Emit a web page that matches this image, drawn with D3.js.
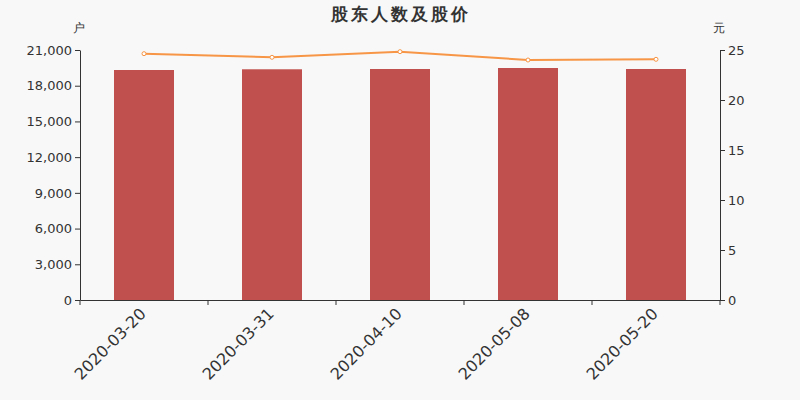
<!DOCTYPE html>
<html>
<head>
<meta charset="utf-8">
<script src="https://cdn.jsdelivr.net/npm/d3@7"></script>
<style>
body{margin:0;background:#f8f8f8;}
svg{display:block;font-family:"DejaVu Sans",sans-serif;}
</style>
</head>
<body>
<svg id="chart" width="800" height="400"></svg>
<script>
var dates = ["2020-03-20","2020-03-31","2020-04-10","2020-05-08","2020-05-20"]
var holders = [19320,19380,19404,19488,19404]
var prices = [24.63,24.27,24.83,24.0,24.07]
var leftTicks = [0,3000,6000,9000,12000,15000,18000,21000]
var rightTicks = [0,5,10,15,20,25]

var svg = d3.select("#chart")
svg.append("rect").attr("width",800).attr("height",400).attr("fill","#f8f8f8")

var x = d3.scaleBand().domain(dates).range([80,720])
var yL = d3.scaleLinear().domain([0,21000]).range([300,50])
var yR = d3.scaleLinear().domain([0,25]).range([300,50])

svg.append("text").attr("x",401).attr("y",20).attr("text-anchor","middle")
	.attr("font-size",17).attr("font-weight","bold").attr("letter-spacing",3)
	.attr("fill","#333").text("股东人数及股价")
svg.append("text").attr("x",79).attr("y",32).attr("text-anchor","middle")
	.attr("font-size",12).attr("fill","#333").text("户")
svg.append("text").attr("x",719).attr("y",32).attr("text-anchor","middle")
	.attr("font-size",12).attr("fill","#333").text("元")

// bars
var bw = 60
svg.selectAll(".bar").data(holders).enter().append("rect").attr("class","bar")
	.attr("x",function(d,i){return x(dates[i])+x.bandwidth()/2-bw/2})
	.attr("y",function(d){return yL(d)})
	.attr("width",bw)
	.attr("height",function(d){return 300-yL(d)})
	.attr("fill","#c0504d")

// axes
var ax = svg.append("g").attr("transform","translate(80,0)")
	.call(d3.axisLeft(yL).tickValues(leftTicks).tickSize(5).tickSizeOuter(0).tickFormat(d3.format(",")))
var ar = svg.append("g").attr("transform","translate(720,0)")
	.call(d3.axisRight(yR).tickValues(rightTicks).tickSize(5).tickSizeOuter(0))
var ab = svg.append("g").attr("transform","translate(0,300)")
	.call(d3.axisBottom(x).tickSize(0).tickSizeOuter(0).tickFormat(""))
ab.selectAll(".sep").data(d3.range(dates.length+1)).enter().append("line").attr("class","sep")
	.attr("x1",function(i){return 80+i*x.step()}).attr("x2",function(i){return 80+i*x.step()})
	.attr("y1",0).attr("y2",5).attr("stroke","#333")

;[ax,ar,ab].forEach(function(g){
	g.select(".domain").attr("stroke","#333")
	g.selectAll(".tick line").attr("stroke","#333")
	g.selectAll("text").attr("fill","#333").attr("font-size",13).attr("font-family","DejaVu Sans")
})

svg.selectAll(".xl").data(dates).enter().append("text").attr("class","xl")
	.attr("transform",function(d){return "translate("+(x(d)+x.bandwidth()/2-5)+",307) rotate(-45)"})
	.attr("text-anchor","end").attr("dy","0.7em")
	.attr("font-size",16).attr("fill","#333").text(function(d){return d})

// price line
var line = d3.line()
	.x(function(d,i){return x(dates[i])+x.bandwidth()/2})
	.y(function(d){return yR(d)})
svg.append("path").attr("d",line(prices)).attr("fill","none")
	.attr("stroke","#f79646").attr("stroke-width",2)
svg.selectAll(".pt").data(prices).enter().append("circle").attr("class","pt")
	.attr("cx",function(d,i){return x(dates[i])+x.bandwidth()/2})
	.attr("cy",function(d){return yR(d)})
	.attr("r",2).attr("fill","#fff").attr("stroke","#f79646").attr("stroke-width",1)
</script>
</body>
</html>
